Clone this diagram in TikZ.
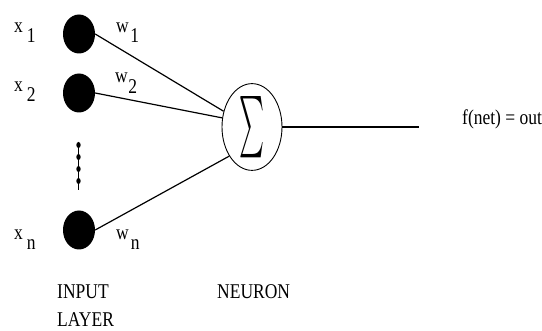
\documentclass[tikz,border=0pt]{standalone}
\usepackage{fontspec}
\setmainfont{Liberation Serif}
\usepackage{graphicx}
\usepackage{tikz}
\usetikzlibrary{shapes.geometric,positioning}
\newcommand{\tall}[1]{\scalebox{1}[1.2]{#1}}
\tikzset{
  inp/.style={ellipse,fill=black,minimum width=32pt,minimum height=39pt,inner sep=0pt},
  neuron/.style={ellipse,draw,line width=0.9pt,minimum width=60pt,minimum height=72pt,inner sep=0pt},
  lbl/.style={font=\fontsize{17.5}{20}\selectfont,inner sep=0pt,anchor=base west},
  link/.style={line width=1.2pt},
}
\begin{document}
\begin{tikzpicture}[x=1pt,y=-1pt]
\useasboundingbox (0,0) rectangle (542,331);
% input layer
\node[inp] (i1) at (79,34)  {};
\node[inp] (i2) at (79,93)  {};
\node[inp] (in) at (79,230) {};
\node[lbl] (x1) at (14,33)  {\tall{x}\kern4pt\raisebox{-10pt}{\tall{1}}};
\node[lbl] (x2) at (14,92)  {\tall{x}\kern4pt\raisebox{-10pt}{\tall{2}}};
\node[lbl] (xn) at (14,240) {\tall{x}\kern4pt\raisebox{-10pt}{\tall{n}}};
% dotted gap
\coordinate (d0) at (78.5,142);
\coordinate (d1) at (78.5,190);
\draw[line width=0.6pt] (d0) -- (d1);
\foreach \y in {145,157,169,181}
  \fill (78.5,\y) ellipse (2.2pt and 3pt);
% neuron
\node[neuron] (sum) at (252,127) {\resizebox{25pt}{46pt}{$\sum$}};
\draw[link] (i1.east) -- (sum.151);
\draw[link] (i2.east) -- (sum.163);
\draw[link] (in.east) -- (sum.232);
\node[lbl] (w1) at (116,33)  {\tall{w}\kern1.5pt\raisebox{-10pt}{\tall{1}}};
\node[lbl] (w2) at (115,83)  {\tall{w}\kern0.5pt\raisebox{-11pt}{\tall{2}}};
\node[lbl] (wn) at (116,240) {\tall{w}\kern2pt\raisebox{-10pt}{\tall{n}}};
% output
\coordinate (o) at (419,127);
\draw[link] (sum.east) -- (o);
\node[lbl] (out) at (462,125) {\tall{f(net) = out}};
% captions
\node[lbl] (il) at (57,299) {\tall{INPUT}};
\node[lbl,text depth=0pt] (ly) at (57,327) {\tall{LAYER}};
\node[lbl] (ne) at (217,299) {\tall{NEURON}};
\end{tikzpicture}
\end{document}
